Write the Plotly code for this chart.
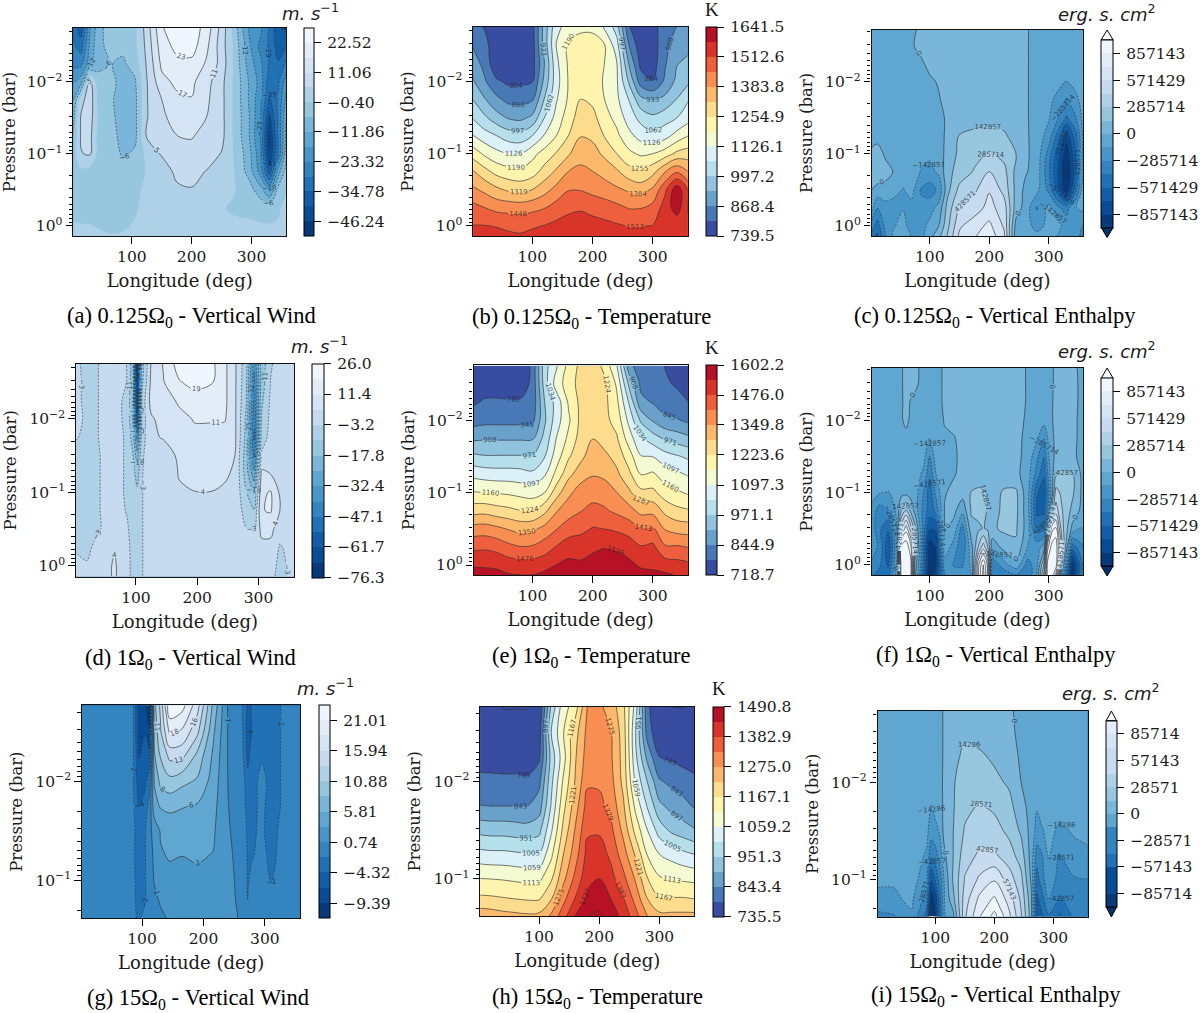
import numpy as np
import plotly.graph_objects as go

# ---------- pressure rows (bar), shared by panels of the two upper rows / the lowest row
P_FULL = [0.00178, 0.00316, 0.00562, 0.01, 0.0178, 0.0316, 0.0562, 0.1, 0.178, 0.316, 0.562, 1.0, 1.38]
P_LOW = [0.0017, 0.00316, 0.00562, 0.01, 0.0178, 0.0316, 0.0562, 0.1, 0.158, 0.24]
LON_T = [0, 20, 40, 60, 80, 100, 120, 140, 160, 180, 200, 220, 240, 260, 280, 300, 320, 340, 360]

# ---------- each panel: a list of columns, one per longitude, values top to bottom
A_LON = [2, 15, 30, 45, 65, 85, 105, 125, 150, 175, 200, 225, 250, 270, 295, 315, 330, 345, 358]
A_Z = [
 [-32,-28,-25,-18,-12,-8,-6,-3,-2,-3,-2,0,2],
 [-38,-32,-25,-14,3,6,6,5,-2,-3,-3,0,2],
 [-18,-16,-14,7,9,8,7,6,-3,-4,-4,0,2],
 [-8,-7,-7,-5,-3,-2,-3,-3,-3,-4,-5,-1,1],
 [-3,-5,-6,-4,-5,-4,-3,-3,-4,-4,-5,-2,0],
 [-4,-5,-7,-9,-10,-10,-9,-7,-4,-3,-3,-1,0],
 [-2,-2,-4,-7,-8,-8,-8,-5,-3,-2,-1,0,0],
 [8,7,6,5,5,5,6,1,0,1,1,1,1],
 [22,20,18,15,11,10,7,6,1,2,1,1,1],
 [26,24,21,18,15.5,13,11,9,7,4,2,2,2],
 [26,25,21,18,16.5,13,11.5,9,7,5,2,2,2],
 [20,18,16,13,12,11,9,8,5,1,1,1,1],
 [9,8,9,7,7,7,7,5,1,0,0,1,1],
 [-2,-1,-1,-1,-1,-1,-1,-0.5,0,0,-1,0.5,0.5],
 [-18,-16,-14,-12,-12,-11,-11,-9,-8,-3,-1,0,0],
 [-22,-25,-22,-20,-22,-23,-24,-22,-20,-10,-2,0,0],
 [-30,-30,-30,-33,-36,-42,-47,-46,-38,-18,-3,0,0],
 [-40,-38,-34,-30,-28,-28,-28,-28,-14,-4,-1,0,0],
 [-42,-35,-28,-20,-16,-12,-10,-8,-3,-1,1,2,2],
]
B_Z = [
 [830,865,905,945,1000,1060,1130,1230,1330,1400,1470,1515,1530],
 [800,835,850,880,940,1010,1090,1180,1280,1370,1450,1515,1535],
 [750,750,755,815,885,960,1062,1145,1235,1335,1430,1510,1530],
 [745,745,750,790,850,925,1030,1125,1215,1310,1425,1500,1525],
 [745,745,750,790,845,915,1020,1125,1205,1300,1420,1495,1520],
 [780,775,775,800,860,945,1060,1170,1225,1320,1430,1505,1530],
 [960,960,930,950,1000,1060,1130,1215,1280,1360,1445,1515,1535],
 [1110,1130,1110,1100,1120,1150,1190,1260,1330,1405,1475,1530,1550],
 [1150,1205,1200,1195,1200,1225,1255,1310,1385,1445,1500,1535,1555],
 [1170,1230,1225,1220,1255,1285,1315,1365,1395,1445,1505,1545,1565],
 [1170,1230,1225,1215,1240,1275,1305,1345,1385,1430,1490,1540,1560],
 [1120,1193,1190,1185,1190,1215,1250,1305,1360,1415,1480,1530,1550],
 [1030,1090,1130,1135,1140,1170,1205,1255,1330,1395,1465,1520,1540],
 [810,870,930,990,1060,1095,1145,1205,1280,1375,1445,1510,1530],
 [745,760,785,835,950,1040,1100,1180,1265,1355,1445,1510,1535],
 [780,770,775,805,925,1010,1075,1190,1300,1395,1470,1515,1525],
 [840,850,860,880,950,1035,1100,1220,1380,1500,1540,1515,1525],
 [870,900,930,950,1000,1060,1150,1270,1440,1620,1610,1530,1535],
 [885,920,945,990,1060,1100,1190,1285,1380,1500,1500,1520,1530],
]
C_LON = [2, 12, 25, 40, 55, 70, 85, 100, 115, 130, 150, 175, 200, 225, 245, 262, 280, 300, 315, 330, 345, 358]
C_Z = [
 [-70,-70,-70,-70,-70,-70,-60,30,60,0,-100,-350,-500],
 [-70,-70,-70,-70,-70,-70,-50,60,100,-50,-280,-500,-600],
 [-70,-70,-70,-60,-50,-50,-30,-20,50,-50,-200,-250,-300],
 [-60,-10,-40,-50,-60,-60,-50,-50,-10,-100,-200,-150,-100],
 [-60,-30,-60,-70,-70,-70,-70,-60,-90,-150,-150,-100,-100],
 [-40,-10,-30,-30,-50,-50,-60,-70,-60,-100,-180,-200,-150],
 [30,30,-20,-30,-70,-70,-80,-100,-150,-300,-250,-200,-200],
 [30,30,30,-20,-70,-90,-100,-120,-180,-360,-200,-100,-50],
 [30,30,30,10,-10,-70,-80,-90,-120,-250,-100,0,100],
 [40,40,40,40,40,40,50,70,100,100,200,250,300],
 [40,40,40,40,40,40,150,170,200,330,450,550,600],
 [40,40,40,40,40,100,170,240,300,400,500,650,700],
 [40,40,40,40,40,110,180,300,430,560,620,750,800],
 [40,40,40,40,40,70,170,240,330,380,500,550,600],
 [40,40,40,40,40,40,70,150,100,100,70,-50,-100],
 [20,20,20,20,20,20,20,20,10,-50,-60,-80,-100],
 [-70,-70,-70,-70,-70,-70,-60,-50,-60,-100,-300,-200,-100],
 [-70,-70,-70,-70,-90,-130,-200,-350,-400,-320,-100,-100,-70],
 [-70,-70,-70,-80,-200,-280,-480,-650,-700,-650,-250,-100,-150],
 [-70,-70,-80,-150,-300,-450,-800,-950,-1020,-950,-350,-200,-150],
 [-70,-70,-70,-100,-180,-300,-500,-600,-650,-500,-150,-150,-150],
 [-70,-70,-70,-70,-90,-100,-100,-100,-80,-50,-100,-300,-400],
]
D_LON = [2, 20, 35, 50, 65, 85, 95, 102, 110, 125, 145, 170, 195, 225, 245, 262, 280, 293, 305, 320, 335, 358]
D_Z = [
 [-2,-2,-2,-2,-3,-4.5,-5,-5,-5,-5,-4,-1,-1],
 [-5,-4.5,-4.5,-4,-4,-5,-5.5,-5.5,-5.5,-5.5,-5,-2.5,-2],
 [-4,-4,-4,-4,-4,-5,-5,-5,-5,-4.5,-1.5,-1,-1],
 [-1,-1,-1,-1,-1,-1,-1,-1,-1,-2,1,2,2],
 [-1,-1,-2,-2,-1,-1,-1,-1,-1,0,3.5,5,5],
 [-3.3,-3.3,-4,-4,-4,-4,-4,-4,-3.5,-2.5,-1.5,-1,-1],
 [-14,-16,-18,-18,-14,-10,-7,-6,-5,-5,-5,-5,-5],
 [-74,-70,-66,-60,-35,-22,-14,-9,-6,-6,-6,-6,-6],
 [-14,-12,-8,-7,-6,-4,-3.5,-3.5,-3.5,-3.5,-3.5,-3.5,-3.5],
 [5,6,7,3,2,0,0,0,0,0,0,0,0],
 [12,11,6,7,5,-2,-3,-3,0,0,0,0,0],
 [22,18,13,8,8,6,4.5,3,0,0,0,0,0],
 [22,21,15,12,9,7,5,4,2,0,0,0,0],
 [20,19,14,12,9,7,5,4,2,0,0,0,0],
 [13,13,13,12,8,6,5,3,1,0,0,0,0],
 [5,5,5,5,5,4,3,2,1,0,0,0,0],
 [-8,-9,-10,-12,-13,-15,-14,-10,-6,-3,-2,-1,-1],
 [-38,-42,-44,-46,-48,-42,-30,-18,-10,-3.5,-1,0,0],
 [-15,-15,-12,-10,-8,-2,6,10,11,6,2,2,2],
 [-4,-3,-2,-1,0,1,4,12,12,6,2,1,0],
 [0,0,0,0,0,0,1,3,4,0,-4,-6,-7],
 [1,1,1,1,1,1,1,0,0,0,0,0,0],
]
E_Z = [
 [745,755,770,815,895,985,1080,1165,1260,1375,1460,1530,1570],
 [730,745,790,825,900,975,1070,1160,1265,1380,1465,1530,1565],
 [725,735,795,825,900,975,1065,1155,1250,1365,1455,1525,1560],
 [725,735,790,825,900,975,1065,1150,1240,1345,1430,1510,1545],
 [725,740,790,825,900,975,1060,1140,1225,1330,1415,1505,1540],
 [800,800,800,825,900,970,1050,1130,1225,1335,1420,1505,1540],
 [1010,1000,970,960,990,1030,1090,1160,1270,1370,1445,1515,1555],
 [1090,1130,1060,1070,1100,1130,1180,1260,1345,1410,1480,1540,1570],
 [1180,1190,1170,1150,1175,1215,1270,1335,1385,1445,1510,1555,1590],
 [1240,1250,1240,1240,1250,1270,1320,1380,1410,1460,1510,1550,1580],
 [1270,1260,1250,1250,1285,1320,1345,1390,1430,1480,1525,1565,1590],
 [1200,1240,1240,1240,1260,1300,1335,1385,1420,1475,1535,1580,1600],
 [1100,1150,1175,1200,1230,1265,1300,1350,1400,1465,1530,1570,1595],
 [870,960,1030,1080,1130,1190,1240,1300,1375,1450,1510,1555,1590],
 [800,830,860,960,1040,1100,1160,1240,1330,1415,1480,1530,1560],
 [820,830,840,900,1000,1095,1170,1240,1330,1420,1490,1520,1560],
 [780,790,810,860,960,1060,1130,1190,1270,1345,1420,1510,1550],
 [750,775,800,850,940,1040,1110,1170,1240,1325,1420,1500,1535],
 [725,750,780,830,920,1020,1090,1150,1230,1320,1410,1490,1530],
]
F_LON = [2, 15, 30, 45, 52, 60, 68, 75, 90, 100, 110, 125, 140, 155, 170, 182, 190, 197, 205, 225, 245, 265, 280, 292, 298, 305, 312, 322, 340, 358]
F_Z = [
 [-10,-10,-30,-60,-70,-70,-70,-70,-200,-200,-250,-300,-400],
 [-70,-70,-70,-70,-70,-70,-80,-130,-350,-400,-300,-400,-500],
 [-70,-70,-70,-70,-70,-70,-80,-150,-300,-550,-700,-600,-500],
 [-70,-70,-70,-70,-70,-70,-60,-70,-100,-150,-150,-100,-50],
 [-20,-20,-20,-20,-60,-60,-60,-50,150,500,1050,1100,1100],
 [50,50,40,40,-50,-60,-60,-50,300,800,1100,1150,1150],
 [50,40,-10,-30,-60,-70,-70,-60,100,500,900,1050,1050],
 [50,40,-50,-60,-70,-70,-70,-70,-50,200,300,100,50],
 [-70,-70,-70,-70,-70,-100,-180,-300,-350,-400,-500,-500,-600],
 [-90,-90,-90,-100,-140,-300,-400,-520,-500,-700,-950,-1000,-1000],
 [-70,-70,-70,-70,-50,-60,-150,-250,-400,-700,-850,-900,-800],
 [30,30,30,10,-20,-20,-30,-10,10,10,-50,-200,-300],
 [40,40,40,40,-10,-20,-10,30,40,-50,-200,-300,-200],
 [40,40,40,30,40,30,30,60,-100,-350,-400,-300,-250],
 [40,40,40,40,40,40,60,150,160,100,-50,-100,-150],
 [40,40,40,40,40,40,70,170,180,120,300,700,750],
 [40,40,40,40,40,40,70,170,180,150,500,1000,1050],
 [40,40,40,40,40,40,60,120,130,130,300,700,700],
 [40,40,40,40,40,40,40,60,80,120,-100,-400,-400],
 [40,40,40,40,40,40,40,170,180,170,60,-200,-400],
 [40,40,40,40,40,40,40,170,180,160,120,-50,-300],
 [-10,-10,-10,-20,-40,-50,-80,-100,-100,-80,-150,-350,-400],
 [-70,-70,-70,-80,-120,-250,-350,-550,-600,-500,-200,-200,-150],
 [-70,-70,-70,-90,-280,-420,-550,-650,-600,-450,-100,300,500],
 [-60,-60,-60,-70,-150,-200,-300,-400,-300,100,800,1050,1050],
 [-20,-20,-10,-10,-30,-30,-50,-100,200,800,1050,1100,1100],
 [30,30,30,30,30,20,120,350,500,900,1100,1100,800],
 [40,40,40,40,40,40,170,250,300,350,500,200,-200],
 [30,40,40,30,30,30,150,170,100,-50,-500,-950,-950],
 [-40,-40,-40,-40,-40,-50,-50,-50,-60,-150,-300,-400,-300],
]
G_LON = [2, 40, 85, 95, 105, 112, 120, 130, 145, 165, 190, 215, 240, 255, 265, 272, 280, 295, 310, 325, 358]
G_Z = [
 [-1,-1,-1,-1,-1,-1,-1,-1,-1,-1],
 [-1,-1,-1,-1,-1,-1,-1,-1,-1,-1],
 [-1.2,-1.2,-1.2,-1.2,-1.2,-1.2,-1.3,-1.4,-1.5,-1.5],
 [-8,-8,-7,-6,-4.5,-3,-3,-2.5,-2.2,-2],
 [-9,-7,-6,-5,-3,-2,-2,-2,-2,-1.2],
 [-12,-9,-6,-2.5,-1,0.2,0.2,-0.5,-0.5,-0.5],
 [10,9,8,6,5,1.5,1,0.9,0.2,0],
 [14,13,11,9,6,3.5,3,1.5,1,0.3],
 [23,19,14,10,6.5,4,3.5,2.5,1.5,1],
 [22,18,14,9,6,4,3.3,2.5,2,1.5],
 [17,14,10,8,5.5,4.3,3.5,2.8,2.2,2],
 [8,6.5,5.5,4.8,4.2,3.7,3.2,2.4,2,1.6],
 [0.5,0.6,0.6,0.7,0.8,1,1.3,1.5,1.4,1.4],
 [-1.2,-1,-0.6,-0.3,0,0,0.2,0.4,0.6,0.8],
 [-1.9,-1.9,-1.8,-1,-0.8,-0.7,-0.6,-0.5,-0.4,-0.3],
 [-5,-5.5,-5,-3.5,-2.8,-2.2,-2,-2,-1.8,-1],
 [-4,-4,-3,-2.5,-2.2,-2,-1.9,-1,-0.8,-0.7],
 [-2,-2,-2,-1.2,-1.4,-1.5,-1.2,-1,-0.8,-0.7],
 [-2.2,-2.3,-2.4,-2.4,-2.5,-2.5,-2.3,-1.9,-1.3,-1],
 [-1.8,-1.8,-1.8,-1.8,-1.8,-1.5,-1.4,-1.2,-1.1,-1],
 [-1,-1,-1,-1,-1,-1,-1,-1,-1,-1],
]
H_Z = [
 [745,750,765,805,845,935,1025,1115,1178,1255],
 [740,745,760,805,843,930,1020,1113,1175,1250],
 [735,740,755,805,843,930,1020,1110,1170,1240],
 [735,740,755,805,843,925,1015,1105,1165,1235],
 [735,740,755,800,843,920,1010,1100,1160,1230],
 [740,760,780,830,870,935,1010,1100,1160,1235],
 [960,1005,970,990,1010,1050,1100,1160,1215,1285],
 [1090,1110,1090,1120,1150,1180,1220,1260,1310,1360],
 [1140,1200,1215,1225,1250,1280,1305,1345,1385,1440],
 [1275,1290,1300,1320,1350,1375,1400,1420,1450,1490],
 [1285,1295,1300,1320,1345,1375,1410,1438,1465,1500],
 [1250,1275,1280,1290,1310,1340,1370,1400,1435,1465],
 [1180,1195,1200,1205,1230,1260,1300,1345,1385,1420],
 [1040,1010,1020,1050,1100,1150,1215,1270,1310,1350],
 [800,820,880,950,1000,1060,1110,1170,1220,1275],
 [745,745,790,850,910,980,1060,1120,1170,1235],
 [735,745,780,830,880,940,1040,1110,1170,1235],
 [735,745,770,815,860,920,1020,1105,1170,1235],
 [740,750,765,800,835,900,1005,1100,1165,1235],
]
I_LON = [2, 30, 60, 85, 93, 100, 108, 116, 130, 150, 175, 200, 225, 245, 262, 272, 280, 292, 310, 335, 358]
I_Z = [
 [-7,-7,-7,-7,-7,-7,-7,-10,-20,-32],
 [-7,-7,-7,-7,-7,-7,-8,-13,-16,-30],
 [-7,-7,-7,-7,-7,-7,-7,-7,-12,-16],
 [-7,-7,-7,-7,-7,-10,-16,-25,-35,-50],
 [-7,-7,-7,-8,-15,-22,-40,-70,-95,-115],
 [-7,-7,-7,-7,-10,-18,-35,-55,-80,-90],
 [-4,-4,-4,-4,-6,-12,-20,-35,-45,-50],
 [3,3,3,4,5,8,-2,-10,-12,-15],
 [5,7,10,13,13,14,14,16,10,-5],
 [6,12,18,21,25,30,37,44,50,55],
 [6,9,17,23,30,36,45,60,75,85],
 [6,6,12,18,26,34,45,70,88,105],
 [2,3,7,12,19,25,35,50,65,75],
 [-4,-3,-2,0,5,12,22,33,40,45],
 [-7,-7,-7,-7,-5,-5,-5,-2,5,8],
 [-7,-7,-7,-8,-13,-20,-35,-50,-60,-65],
 [-7,-7,-7,-7,-8,-16,-30,-35,-50,-60],
 [-7,-7,-7,-7,-8,-10,-14,-18,-28,-45],
 [-7,-7,-7,-7,-10,-17,-30,-35,-45,-60],
 [-7,-7,-7,-7,-8,-13,-18,-30,-35,-40],
 [-7,-7,-7,-7,-7,-12,-16,-29,-30,-33],
]

# ---------- colour-bar tick labels
TICKS_A = [22.52, 11.06, -0.40, -11.86, -23.32, -34.78, -46.24]
TICKS_B = [1641.5, 1512.6, 1383.8, 1254.9, 1126.1, 997.2, 868.4, 739.5]
TICKS_C = [857143, 571429, 285714, 0, -285714, -571429, -857143]
TICKS_D = [26.0, 11.4, -3.2, -17.8, -32.4, -47.1, -61.7, -76.3]
TICKS_E = [1602.2, 1476.0, 1349.8, 1223.6, 1097.3, 971.1, 844.9, 718.7]
TICKS_G = [21.01, 15.94, 10.88, 5.81, 0.74, -4.32, -9.39]
TICKS_H = [1490.8, 1382.9, 1275.0, 1167.1, 1059.2, 951.3, 843.4, 735.5]
TICKS_I = [85714, 57143, 28571, 0, -28571, -57143, -85714]

BLUES_R = ["#08306b","#08519c","#2171b5","#4292c6","#6baed6","#9ecae1","#c6dbef","#deebf7","#f7fbff"]
RDYLBU_R = ["#313695","#4575b4","#74add1","#abd9e9","#e0f3f8","#ffffbf","#fee090","#fdae61","#f46d43","#d73027","#a50026"]
SERIF = "DejaVu Serif"
TXT = "#1a1a1a"
LINE = "rgba(50,50,50,0.72)"
W, H = 1200, 1013
TICK_SIZE = 15.5


def hex2rgb(c):
    return np.array([int(c[i:i + 2], 16) for i in (1, 3, 5)], float)


def sample(stops, t):
    p = t * (len(stops) - 1)
    i = min(int(p), len(stops) - 2)
    c = hex2rgb(stops[i]) * (1 - (p - i)) + hex2rgb(stops[i + 1]) * (p - i)
    return "rgb(%d,%d,%d)" % tuple(c.round())


def band_scale(stops, n, half_step):
    # the symmetric enthalpy ranges evaluate their bands half a step later than the others
    off = 0.5 if half_step else 0.0
    out = []
    for k in range(n):
        col = sample(stops, (k + 0.5) / n)
        lo_edge = 0.0 if k == 0 else (k + off) / n
        hi_edge = 1.0 if k == n - 1 else (k + 1 + off) / n
        out += [[lo_edge, col], [hi_edge, col]]
    return out


def fmt(v, style):
    return "\u2009" + style.format(v).replace("-", "\u2212")


def py(y):
    return 1 - y / H


WU = "<i>m. s</i><sup>\u22121</sup>"
EU = "<i>erg. s. cm</i><sup>2</sup>"
PANELS = [
 dict(z=A_Z, lon=A_LON, p=P_FULL, box=(73.3,286.7,28,236), cb=(305,315,28,236), lo=-52.0, hi=28.25, ticks=TICKS_A, tf="{:.2f}", kind="w", unit=WU, up=(311,12), cap="(a) 0.125\u03a9<sub>0</sub> - Vertical Wind", cp=(192,317), yr=(0.14,-2.75)),
 dict(z=B_Z, lon=LON_T, p=P_FULL, box=(474,689,27,236), cb=(707.5,718.5,27,236), lo=739.5, hi=1641.5, ticks=TICKS_B, tf="{:.1f}", kind="t", unit="K", up=(713,9), cap="(b) 0.125\u03a9<sub>0</sub> - Temperature", cp=(592,318), yr=(0.14,-2.75)),
 dict(z=C_Z, lon=C_LON, p=P_FULL, box=(873,1085,30,236), cb=(1103,1115,39.9,227.4), lo=-1e6, hi=1e6, scale=1000, ticks=TICKS_C, tf="{:.0f}", kind="e", unit=EU, up=(1109,13), cap="(c) 0.125\u03a9<sub>0</sub> - Vertical Enthalpy", cp=(997,317), yr=(0.14,-2.72), tri=(30,237.5)),
 dict(z=D_Z, lon=D_LON, p=P_FULL, box=(76,294.5,363.5,577), cb=(313,324.5,363.5,577), lo=-76.3, hi=26.0, ticks=TICKS_D, tf="{:.1f}", kind="w", unit=WU, up=(320,345), cap="(d) 1\u03a9<sub>0</sub> - Vertical Wind", cp=(191,659), yr=(0.15,-2.755)),
 dict(z=E_Z, lon=LON_T, p=P_FULL, box=(474.3,689,365,575), cb=(707.5,718.5,365,575), lo=718.7, hi=1602.2, ticks=TICKS_E, tf="{:.1f}", kind="t", unit="K", up=(713,347), cap="(e) 1\u03a9<sub>0</sub> - Temperature", cp=(592,657), yr=(0.138,-2.76)),
 dict(z=F_Z, lon=F_LON, p=P_FULL, box=(873,1085,368,575), cb=(1103,1115,378.3,566.1), lo=-1e6, hi=1e6, scale=1000, ticks=TICKS_C, tf="{:.0f}", kind="e", unit=EU, up=(1109,350), cap="(f) 1\u03a9<sub>0</sub> - Vertical Enthalpy", cp=(998,656), yr=(0.14,-2.72), tri=(368,576)),
 dict(z=G_Z, lon=G_LON, p=P_LOW, box=(82,301,705.3,918), cb=(320,331,705.3,918), lo=-11.92, hi=23.54, ticks=TICKS_G, tf="{:.2f}", kind="w", unit=WU, up=(326,687), cap="(g) 15\u03a9<sub>0</sub> - Vertical Wind", cp=(198,999), yr=(-0.62,-2.77)),
 dict(z=H_Z, lon=LON_T, p=P_LOW, box=(481,695.5,706.5,916), cb=(714,725,706.5,916), lo=735.5, hi=1490.8, ticks=TICKS_H, tf="{:.1f}", kind="t", unit="K", up=(720,688), cap="(h) 15\u03a9<sub>0</sub> - Temperature", cp=(598,998), yr=(-0.62,-2.77)),
 dict(z=I_Z, lon=I_LON, p=P_LOW, box=(879,1089.5,711,916.5), cb=(1108,1118.5,720.7,907), lo=-1e5, hi=1e5, scale=1000, ticks=TICKS_I, tf="{:.0f}", kind="e", unit=EU, up=(1113,692), cap="(i) 15\u03a9<sub>0</sub> - Vertical Enthalpy", cp=(998,996), yr=(-0.62,-2.73), tri=(711,917)),
]

fig = go.Figure()
layout = dict(width=W, height=H, autosize=False, margin=dict(l=0, r=0, t=0, b=0),
              paper_bgcolor="white", plot_bgcolor="white", showlegend=False,
              font=dict(family=SERIF, size=TICK_SIZE, color=TXT))
annots, shapes = [], []
NBINS = 14

for n, pn in enumerate(PANELS, start=1):
    xn = "x" if n == 1 else f"x{n}"
    yn = "y" if n == 1 else f"y{n}"
    z = np.array(pn["z"], float).T * pn.get("scale", 1)
    l, r, t, b = pn["box"]
    stops = RDYLBU_R if pn["kind"] == "t" else BLUES_R
    size = (pn["hi"] - pn["lo"]) / NBINS
    cl, cr, ct, cb = pn["cb"]
    common = dict(x=pn["lon"], y=pn["p"], z=z, xaxis=xn, yaxis=yn, hoverinfo="skip")
    fig.add_trace(go.Contour(
        **common, zauto=False, zmin=pn["lo"], zmax=pn["hi"], colorscale=band_scale(stops, NBINS, pn["kind"] == "e"),
        contours=dict(coloring="fill", start=pn["lo"], end=pn["hi"] + size * 0.01, size=size, showlines=False),
        line=dict(width=0),
        colorbar=dict(x=cl / W, xanchor="left", y=py(ct), yanchor="top", len=(cb - ct) / H, lenmode="fraction",
                      thickness=cr - cl, thicknessmode="pixels", xpad=0, ypad=0, outlinewidth=1, outlinecolor="black",
                      tickmode="array", tickvals=pn["ticks"], ticktext=[fmt(v, pn["tf"]) for v in pn["ticks"]],
                      ticks="outside", ticklen=7, tickwidth=1, tickcolor="black",
                      tickfont=dict(family=SERIF, size=TICK_SIZE, color=TXT))))
    lab = dict(family="DejaVu Sans", size=7, color="rgba(40,40,40,0.8)")
    if pn["kind"] == "t":
        fig.add_trace(go.Contour(**common, showscale=False,
            contours=dict(coloring="none", start=pn["lo"], end=pn["hi"], size=size, showlabels=True, labelfont=lab, labelformat=".0f"),
            line=dict(color=LINE, width=0.9)))
    else:
        fig.add_trace(go.Contour(**common, showscale=False,
            contours=dict(coloring="none", start=pn["lo"], end=-size * 0.02 if pn["kind"] == "e" else -0.5, size=size, showlabels=True, labelfont=lab, labelformat=".0f"),
            line=dict(color=LINE, width=0.8, dash="2px,1.5px")))
        pos0 = 0 if pn["kind"] == "e" else pn["lo"] + size * np.ceil((0 - pn["lo"]) / size)
        fig.add_trace(go.Contour(**common, showscale=False,
            contours=dict(coloring="none", start=pos0, end=pn["hi"], size=size, showlabels=True, labelfont=lab, labelformat=".0f"),
            line=dict(color=LINE, width=0.9)))
    dec_lo = [10.0 ** e * m for e in range(-3, 1) for m in range(2, 10)]
    layout["xaxis" if n == 1 else f"xaxis{n}"] = dict(
        domain=[l / W, r / W], range=[2, 358], anchor=yn, tickvals=[100, 200, 300], showgrid=False, zeroline=False,
        ticks="outside", ticklen=6.5, tickwidth=1.1, tickcolor="black", showline=True, mirror=True, linecolor="#111", linewidth=1.3,
        tickfont=dict(family=SERIF, size=TICK_SIZE, color=TXT),
        title=dict(text="Longitude (deg)", font=dict(family=SERIF, size=18, color=TXT), standoff=9))
    ytv = [v for v in (1.0, 0.1, 0.01) if pn["yr"][1] < np.log10(v) < pn["yr"][0] + 1e-9]
    ytx = {1.0: "10<sup>0</sup>", 0.1: "10<sup>\u22121</sup>", 0.01: "10<sup>\u22122</sup>"}
    layout["yaxis" if n == 1 else f"yaxis{n}"] = dict(
        domain=[py(b), py(t)], type="log", range=list(pn["yr"]), anchor=xn, showgrid=False, zeroline=False,
        tickmode="array", tickvals=ytv, ticktext=[ytx[v] for v in ytv],
        ticks="outside", ticklen=6.5, tickwidth=1.1, tickcolor="black", showline=True, mirror=True, linecolor="#111", linewidth=1.3,
        tickfont=dict(family=SERIF, size=TICK_SIZE, color=TXT),
        minor=dict(tickmode="array", tickvals=[v for v in dec_lo if pn["yr"][1] < np.log10(v) < pn["yr"][0]], ticks="outside", ticklen=3.5, tickwidth=0.8, tickcolor="black", showgrid=False),
        title=dict(text="Pressure (bar)", font=dict(family=SERIF, size=16.5, color=TXT), standoff=8))
    annots.append(dict(x=pn["up"][0] / W, y=py(pn["up"][1]), xref="paper", yref="paper", text=pn["unit"], showarrow=False,
                       xanchor="center", yanchor="middle", font=dict(family="DejaVu Sans" if pn["kind"] != "t" else "Liberation Serif", size=18 if pn["kind"] != "t" else 19, color=TXT)))
    annots.append(dict(x=pn["cp"][0] / W, y=py(pn["cp"][1]), xref="paper", yref="paper", text=pn["cap"], showarrow=False,
                       xanchor="center", yanchor="middle", font=dict(family="Liberation Serif", size=22.5, color="black")))
    if "tri" in pn:
        mid = (cl + cr) / 2
        up = f"M {cl/W} {py(ct)} L {mid/W} {py(pn['tri'][0])} L {cr/W} {py(ct)} Z"
        dn = f"M {cl/W} {py(cb)} L {mid/W} {py(pn['tri'][1])} L {cr/W} {py(cb)} Z"
        shapes.append(dict(type="path", path=up, xref="paper", yref="paper", fillcolor="#f7fbff", line=dict(color="black", width=1)))
        shapes.append(dict(type="path", path=dn, xref="paper", yref="paper", fillcolor="#08306b", line=dict(color="black", width=1)))

layout["annotations"] = annots
layout["shapes"] = shapes
fig.update_layout(**layout)
fig.write_html("out.html", post_script="document.body.style.margin='0';", config={"displayModeBar": False})
